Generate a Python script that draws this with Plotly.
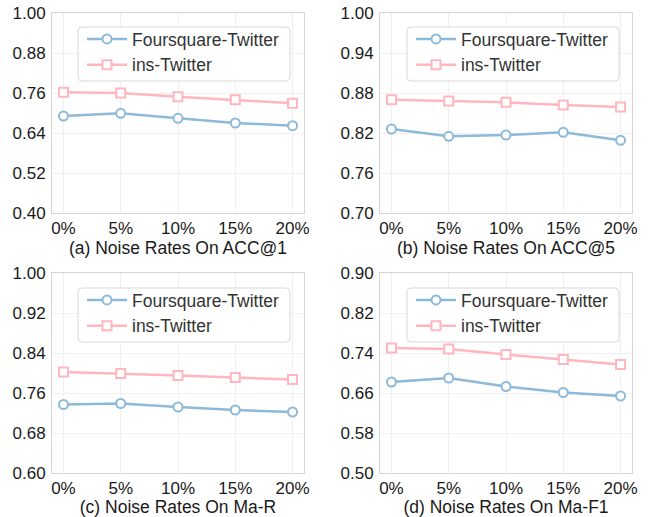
import plotly.graph_objects as go

noise_rates = ["0%", "5%", "10%", "15%", "20%"]
series_names = ["Foursquare-Twitter", "ins-Twitter"]

acc1_ft = [0.691, 0.699, 0.684, 0.670, 0.662]
acc1_it = [0.762, 0.760, 0.749, 0.740, 0.729]
acc5_ft = [0.826, 0.815, 0.817, 0.821, 0.809]
acc5_it = [0.870, 0.868, 0.866, 0.862, 0.859]
mar_ft = [0.737, 0.739, 0.732, 0.726, 0.722]
mar_it = [0.802, 0.799, 0.795, 0.791, 0.787]
maf1_ft = [0.682, 0.690, 0.673, 0.661, 0.654]
maf1_it = [0.750, 0.748, 0.737, 0.727, 0.717]

titles = ["(a) Noise Rates On ACC@1", "(b) Noise Rates On ACC@5",
          "(c) Noise Rates On Ma-R", "(d) Noise Rates On Ma-F1"]
y_ranges = [(0.40, 1.00), (0.70, 1.00), (0.60, 1.00), (0.50, 0.90)]
y_ticks = [[0.40, 0.52, 0.64, 0.76, 0.88, 1.00],
           [0.70, 0.76, 0.82, 0.88, 0.94, 1.00],
           [0.60, 0.68, 0.76, 0.84, 0.92, 1.00],
           [0.50, 0.58, 0.66, 0.74, 0.82, 0.90]]
panels = [(acc1_ft, acc1_it), (acc5_ft, acc5_it), (mar_ft, mar_it), (maf1_ft, maf1_it)]

W, H = 654, 517
blue = "#8dbad9"
pink = "#ffb6be"
font_family = "Liberation Sans, Arial, sans-serif"

# pixel boxes (left, right, top, bottom)
boxes = [(52, 304, 13, 213), (380, 632, 13, 213), (52, 304, 273, 473), (380, 632, 273, 473)]
legend_boxes = [(78, 290, 27, 81), (407, 619, 27, 81), (78, 290, 288, 342), (407, 619, 288, 342)]


def px(x):
    return x / W


def py(y):
    return 1 - y / H


def rounded_rect(l, r, t, b, rad=4):
    pts = [
        f"M {px(l + rad)},{py(t)}", f"L {px(r - rad)},{py(t)}",
        f"Q {px(r)},{py(t)} {px(r)},{py(t + rad)}", f"L {px(r)},{py(b - rad)}",
        f"Q {px(r)},{py(b)} {px(r - rad)},{py(b)}", f"L {px(l + rad)},{py(b)}",
        f"Q {px(l)},{py(b)} {px(l)},{py(b - rad)}", f"L {px(l)},{py(t + rad)}",
        f"Q {px(l)},{py(t)} {px(l + rad)},{py(t)}", "Z",
    ]
    return " ".join(pts)


fig = go.Figure()
layout = {}
shapes = []
for i, ((ft, it), box) in enumerate(zip(panels, boxes)):
    ax = "" if i == 0 else str(i + 1)
    lg = "legend" if i == 0 else f"legend{i + 1}"
    xref = f"x{ax}"
    yref = f"y{ax}"
    fig.add_trace(go.Scatter(
        x=list(range(len(noise_rates))), y=ft, name=series_names[0], mode="lines+markers",
        line=dict(color=blue, width=2.5),
        marker=dict(symbol="circle", size=9, color="white", line=dict(color=blue, width=2)),
        xaxis=xref, yaxis=yref, legend=lg))
    fig.add_trace(go.Scatter(
        x=list(range(len(noise_rates))), y=it, name=series_names[1], mode="lines+markers",
        line=dict(color=pink, width=2.5),
        marker=dict(symbol="square", size=9, color="white", line=dict(color=pink, width=2)),
        xaxis=xref, yaxis=yref, legend=lg))
    l, r, t, b = box
    layout[f"xaxis{ax}"] = dict(
        domain=[l / W, r / W], anchor=yref, range=[-0.2, 4.2],
        tickmode="array", tickvals=list(range(len(noise_rates))), ticktext=noise_rates,
        showgrid=True, gridcolor="#f0f0f0", gridwidth=1,
        showline=True, linecolor="#d4d4d4", linewidth=1, mirror=True,
        ticks="", zeroline=False, automargin=False, ticklabelstandoff=0,
        tickfont=dict(size=17, color="#1a1a1a", family=font_family),
        title=dict(text=titles[i], font=dict(size=17.5, color="#1a1a1a", family=font_family), standoff=0),
        fixedrange=True)
    layout[f"yaxis{ax}"] = dict(
        domain=[1 - b / H, 1 - t / H], anchor=xref, range=list(y_ranges[i]),
        tickmode="array", tickvals=y_ticks[i], ticktext=[f"{v:.2f}" for v in y_ticks[i]],
        showgrid=True, gridcolor="#f0f0f0", gridwidth=1,
        showline=True, linecolor="#d4d4d4", linewidth=1, mirror=True,
        ticks="", zeroline=False, automargin=False, ticklabelstandoff=2,
        tickfont=dict(size=17, color="#1a1a1a", family=font_family),
        fixedrange=True)
    ll, lr, lt, lb = legend_boxes[i]
    shapes.append(dict(type="path", xref="paper", yref="paper",
                       path=rounded_rect(ll, lr, lt, lb),
                       line=dict(color="#d8d8d8", width=1), fillcolor="white", layer="above"))
    layout[lg] = dict(
        x=px(ll + 4), y=py(lt - 6), xanchor="left", yanchor="top",
        bgcolor="rgba(0,0,0,0)", borderwidth=0,
        font=dict(size=17.5, color="#333333", family=font_family),
        itemwidth=40, tracegroupgap=0)

fig.update_layout(
    width=W, height=H, margin=dict(l=0, r=0, t=0, b=0),
    paper_bgcolor="white", plot_bgcolor="white",
    font=dict(family=font_family, color="#1a1a1a"),
    shapes=shapes,
    **layout)

fig.write_html("out.html", config={"displayModeBar": False},
               post_script="document.body.style.margin='0';document.body.style.padding='0';")
